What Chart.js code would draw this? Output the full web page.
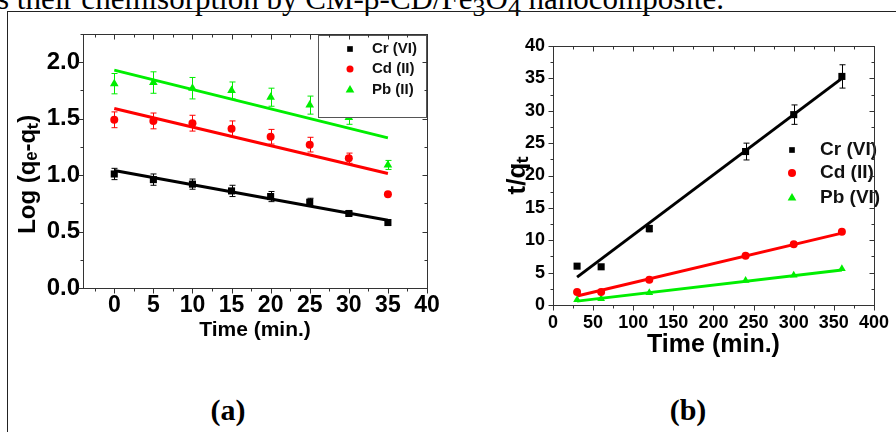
<!DOCTYPE html>
<html>
<head>
<meta charset="utf-8">
<script src="https://cdn.jsdelivr.net/npm/chart.js@4/dist/chart.umd.min.js"></script>
<style>
  html, body { margin: 0; padding: 0; background: #fff; }
  body { width: 896px; height: 432px; overflow: hidden; position: relative; }
  #caption { position: absolute; left: -3px; top: -17px; font: 31px/31px "Liberation Serif", "Times New Roman", serif; white-space: nowrap; color: #000; }
  #frameTop { position: absolute; left: 7px; top: 11px; width: 889px; border-top: 1px solid #222; }
  #frameLeft { position: absolute; left: 7px; top: 11px; height: 421px; border-left: 1px solid #222; }
  #chartA { position: absolute; top: 0; left: 0; }
  #chartB { position: absolute; top: 0; left: 448px; }
  .tag { position: absolute; top: 392px; transform: translateX(-50%); font: bold 30px/36px "Liberation Serif", "Times New Roman", serif; color: #000; }
</style>
</head>
<body>
<div id="caption">s their chemisorption by CM-β-CD/Fe<sub>3</sub>O<sub>4</sub> nanocomposite.</div>
<div id="frameTop"></div>
<div id="frameLeft"></div>
<canvas id="chartA" width="448" height="370"></canvas>
<canvas id="chartB" width="448" height="370"></canvas>
<div class="tag" style="left:228px">(a)</div>
<div class="tag" style="left:688px">(b)</div>

<script>
// ---- panel (a): log(qe-qt) vs time ----
const timeA = [0, 5, 10, 15, 20, 25, 30, 35];
const crA = [1.01, 0.96, 0.92, 0.86, 0.81, 0.76, 0.66, 0.58];
const cdA = [1.49, 1.48, 1.46, 1.41, 1.34, 1.27, 1.15, 0.83];
const pbA = [1.81, 1.82, 1.77, 1.75, 1.69, 1.62, 1.51, 1.09];
const crErrA = [0.05, 0.05, 0.045, 0.05, 0.045, 0.035, 0.02, 0];
const cdErrA = [0.07, 0.07, 0.07, 0.07, 0.065, 0.065, 0.045, 0];
const pbErrA = [0.09, 0.095, 0.095, 0.075, 0.08, 0.08, 0.06, 0.04];
const fitTimeA = [0, 35];
const crFitA = [1.04, 0.60];
const cdFitA = [1.59, 1.015];
const pbFitA = [1.93, 1.33];
const xTicksA = [0, 5, 10, 15, 20, 25, 30, 35, 40];
const yTicksA = [0, 0.5, 1.0, 1.5, 2.0];
const namesA = ["Cr (VI)", "Cd (II)", "Pb (II)"];

// ---- panel (b): t/qt vs time ----
const timeB = [30, 60, 120, 240, 300, 360];
const crB = [6.0, 5.9, 11.8, 23.7, 29.4, 35.3];
const cdB = [2.0, 2.0, 3.9, 7.6, 9.4, 11.3];
const pbB = [0.8, 0.95, 1.9, 3.8, 4.6, 5.6];
const crErrB = [0, 0, 0.5, 1.3, 1.5, 1.8];
const fitTimeB = [30, 360];
const crFitB = [4.3, 35.0];
const cdFitB = [1.4, 11.1];
const pbFitB = [0.6, 5.4];
const xTicksB = [0, 50, 100, 150, 200, 250, 300, 350, 400];
const yTicksB = [0, 5, 10, 15, 20, 25, 30, 35, 40];
const namesB = ["Cr (VI)", "Cd (II)", "Pb (VI)"];

const BLACK = "#000000", RED = "#ff0000", GREEN = "#00ee00";
const FONT = "'Liberation Sans', Arial, sans-serif";

Chart.defaults.font.family = FONT;
Chart.defaults.font.weight = "bold";
Chart.defaults.color = "#000";

const pts = (xs, ys) => xs.map((x, i) => ({ x, y: ys[i] }));

function drawMarker(ctx, style, x, y, r, color) {
  ctx.fillStyle = color;
  ctx.beginPath();
  if (style === "rect") {
    const s = r / Math.SQRT2;
    ctx.rect(x - s, y - s, 2 * s, 2 * s);
  } else if (style === "triangle") {
    let rad = 0;
    ctx.moveTo(x + Math.sin(rad) * r, y - Math.cos(rad) * r);
    rad += 2 * Math.PI / 3;
    ctx.lineTo(x + Math.sin(rad) * r, y - Math.cos(rad) * r);
    rad += 2 * Math.PI / 3;
    ctx.lineTo(x + Math.sin(rad) * r, y - Math.cos(rad) * r);
    ctx.closePath();
  } else {
    ctx.arc(x, y, r, 0, Math.PI * 2);
  }
  ctx.fill();
}

function tickSets(scale) {
  const major = scale.ticks.map((t) => t.value);
  const step = major[1] - major[0];
  const minor = [];
  for (let v = major[0] - step / 2; v >= scale.min - 1e-9; v -= step) minor.push(v);
  for (let i = 0; i < major.length - 1; i++) minor.push(major[i] + step / 2);
  for (let v = major[major.length - 1] + step / 2; v <= scale.max + 1e-9; v += step) minor.push(v);
  return { major, minor };
}

// error bars drawn under the markers
const errorBarPlugin = {
  id: "errorBars",
  beforeDatasetsDraw(chart) {
    const { ctx } = chart;
    const y = chart.scales.y;
    chart.data.datasets.forEach((ds, i) => {
      if (!ds.errorBars) return;
      const meta = chart.getDatasetMeta(i);
      ctx.save();
      ctx.strokeStyle = ds.borderColor;
      ctx.lineWidth = 1;
      meta.data.forEach((el, j) => {
        const e = ds.errorBars[j];
        if (!e) return;
        const v = ds.data[j].y;
        const top = y.getPixelForValue(v + e), bot = y.getPixelForValue(v - e);
        const x = Math.round(el.x) + 0.5;
        ctx.beginPath();
        ctx.moveTo(x, top); ctx.lineTo(x, bot);
        ctx.moveTo(x - 3, top); ctx.lineTo(x + 3, top);
        ctx.moveTo(x - 3, bot); ctx.lineTo(x + 3, bot);
        ctx.stroke();
      });
      ctx.restore();
    });
  }
};

// in-plot legend, optional box
const legendPlugin = {
  id: "plotLegend",
  afterDatasetsDraw(chart, args, opts) {
    const { ctx, chartArea: a } = chart;
    ctx.save();
    if (opts.box) {
      const b = opts.box;
      ctx.fillStyle = "#fff";
      ctx.fillRect(a.right + b.left, a.top + b.top, b.width, b.height);
      ctx.strokeStyle = "#555";
      ctx.lineWidth = 1;
      ctx.strokeRect(Math.round(a.right + b.left) + 0.5, Math.round(a.top + b.top) + 0.5, b.width, b.height);
    }
    ctx.font = `bold ${opts.fontSize}px ${FONT}`;
    ctx.textBaseline = "middle";
    ctx.textAlign = "left";
    opts.names.forEach((name, i) => {
      const ds = chart.data.datasets[i];
      const yy = a.top + opts.rows[i];
      drawMarker(ctx, ds.pointStyle, opts.origin(a) + opts.markerX, yy, opts.markerR[i], ds.backgroundColor);
      ctx.fillStyle = "#111";
      ctx.fillText(name, opts.origin(a) + opts.textX, yy);
    });
    ctx.restore();
  }
};

// plot frame with outward ticks on left/bottom and inward mirror ticks
const framePlugin = {
  id: "frame",
  afterDraw(chart) {
    const { ctx, chartArea: a, scales } = chart;
    ctx.save();
    ctx.strokeStyle = "#333";
    ctx.lineWidth = 1;
    const L = Math.round(a.left) + 0.5, T = Math.round(a.top) + 0.5;
    const R = Math.round(a.right) + 0.5, B = Math.round(a.bottom) + 0.5;
    ctx.strokeRect(L, T, R - L, B - T);
    ctx.beginPath();
    const xs = tickSets(scales.x), ys = tickSets(scales.y);
    [[xs.major, 5], [xs.minor, 3]].forEach(([vals, len]) => vals.forEach((v) => {
      const px = Math.round(scales.x.getPixelForValue(v)) + 0.5;
      ctx.moveTo(px, B); ctx.lineTo(px, B + len);
      ctx.moveTo(px, T); ctx.lineTo(px, T + len);
    }));
    [[ys.major, 5], [ys.minor, 3]].forEach(([vals, len]) => vals.forEach((v) => {
      const py = Math.round(scales.y.getPixelForValue(v)) + 0.5;
      ctx.moveTo(L - len, py); ctx.lineTo(L, py);
      ctx.moveTo(R - len, py); ctx.lineTo(R, py);
    }));
    ctx.stroke();
    ctx.restore();
  }
};

function pointSet(label, xs, ys, errs, color, style, r) {
  return {
    label, data: pts(xs, ys), errorBars: errs,
    backgroundColor: color, borderColor: color, borderWidth: 0,
    pointStyle: style, pointRadius: r, showLine: false
  };
}

function fitSet(xs, ys, color) {
  return {
    data: pts(xs, ys), borderColor: color, backgroundColor: color,
    borderWidth: 3, pointRadius: 0, showLine: true
  };
}

function makeChart(id, cfg) {
  return new Chart(document.getElementById(id), {
    type: "scatter",
    data: { datasets: cfg.datasets },
    options: {
      responsive: false,
      animation: false,
      layout: { padding: cfg.padding },
      plugins: { legend: { display: false }, tooltip: { enabled: false }, plotLegend: cfg.legend },
      scales: {
        x: {
          type: "linear", min: cfg.xMin, max: cfg.xMax,
          grid: { display: false, drawTicks: false }, border: { display: false },
          afterBuildTicks: (s) => { s.ticks = cfg.xTicks.map((value) => ({ value })); },
          afterFit: (s) => { s.height = cfg.xHeight; },
          ticks: { autoSkip: false, maxRotation: 0, padding: cfg.xTickPad, font: { size: cfg.xTickSize }, callback: (v) => String(v) },
          title: { display: true, text: cfg.xTitle, font: { size: cfg.xTitleSize }, padding: { top: 0, bottom: cfg.xTitlePad } }
        },
        y: {
          type: "linear", min: cfg.yMin, max: cfg.yMax,
          grid: { display: false, drawTicks: false }, border: { display: false },
          afterBuildTicks: (s) => { s.ticks = cfg.yTicks.map((value) => ({ value })); },
          afterFit: (s) => { s.width = cfg.yWidth; },
          ticks: { autoSkip: false, padding: cfg.yTickPad, font: { size: cfg.yTickSize }, callback: cfg.yFormat },
          title: { display: true, text: cfg.yTitle, font: { size: cfg.yTitleSize }, padding: { top: cfg.yTitlePad, bottom: 0 } }
        }
      }
    },
    plugins: [errorBarPlugin, legendPlugin, framePlugin]
  });
}

makeChart("chartA", {
  datasets: [
    pointSet(namesA[0], timeA, crA, crErrA, BLACK, "rect", 5),
    pointSet(namesA[1], timeA, cdA, cdErrA, RED, "circle", 4),
    pointSet(namesA[2], timeA, pbA, pbErrA, GREEN, "triangle", 5),
    fitSet(fitTimeA, crFitA, BLACK),
    fitSet(fitTimeA, cdFitA, RED),
    fitSet(fitTimeA, pbFitA, GREEN)
  ],
  padding: { top: 34, right: 21, left: 0, bottom: 0 },
  xMin: -4, xMax: 40, xTicks: xTicksA, xHeight: 82, xTickPad: 4, xTickSize: 23,
  xTitle: "Time (min.)", xTitleSize: 21, xTitlePad: 27,
  yMin: 0, yMax: 2.25, yTicks: yTicksA, yWidth: 83, yTickPad: 3, yTickSize: 24,
  yFormat: (v) => v.toFixed(1),
  yTitle: "Log (qₑ-qₜ)    ", yTitleSize: 24, yTitlePad: 14,
  legend: {
    names: namesA, origin: (a) => a.right, fontSize: 15,
    box: { left: -109, top: 1, width: 108, height: 82 },
    markerX: -77, textX: -55, rows: [15, 35, 56], markerR: [4, 3.5, 5]
  }
});

makeChart("chartB", {
  datasets: [
    pointSet(namesB[0], timeB, crB, crErrB, BLACK, "rect", 5),
    pointSet(namesB[1], timeB, cdB, null, RED, "circle", 4),
    pointSet(namesB[2], timeB, pbB, null, GREEN, "triangle", 4.5),
    fitSet(fitTimeB, crFitB, BLACK),
    fitSet(fitTimeB, cdFitB, RED),
    fitSet(fitTimeB, pbFitB, GREEN)
  ],
  padding: { top: 46, right: 10, left: 0, bottom: 0 },
  xMin: 0, xMax: 400, xTicks: xTicksB, xHeight: 65, xTickPad: 7, xTickSize: 18,
  xTitle: "Time (min.)", xTitleSize: 25, xTitlePad: 10,
  yMin: 0, yMax: 40, yTicks: yTicksB, yWidth: 105, yTickPad: 8, yTickSize: 18,
  yFormat: (v) => String(v),
  yTitle: "t/qₜ", yTitleSize: 26, yTitlePad: 54,
  legend: {
    names: namesB, origin: (a) => a.left, fontSize: 19, box: null,
    markerX: 239, textX: 267, rows: [104, 127, 152], markerR: [4, 4, 5]
  }
});
</script>
</body>
</html>
